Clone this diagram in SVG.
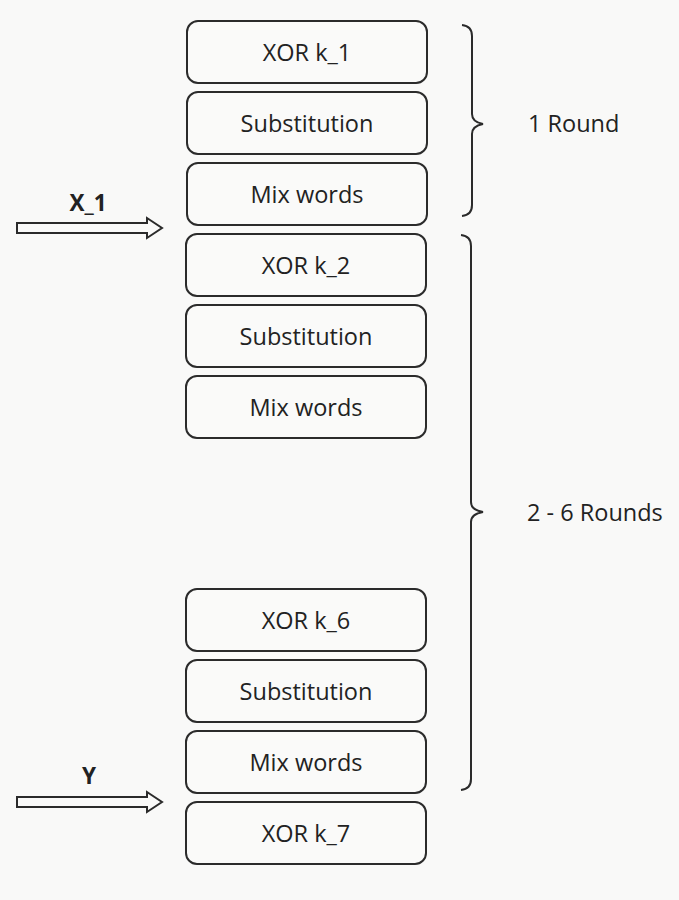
<svg xmlns="http://www.w3.org/2000/svg" width="679" height="900" viewBox="0 0 679 900">
<style>
.box{fill:#fafaf9;stroke:#2b2b2b;stroke-width:2}
.t{font-family:"Open Sans","Noto Sans",sans-serif;font-size:23.5px;fill:#222;text-anchor:middle;dominant-baseline:central}
.lbl{font-family:"Open Sans","Noto Sans",sans-serif;font-size:23.5px;fill:#222}
.in{font-family:"Open Sans","Noto Sans",sans-serif;font-size:22.5px;font-weight:bold;fill:#222;text-anchor:middle}
.br{fill:none;stroke:#2b2b2b;stroke-width:2}
.ar{fill:#fafaf9;stroke:#2b2b2b;stroke-width:2;stroke-linejoin:miter}
</style>
<rect width="679" height="900" fill="#f9f9f8"/>
<g id="n1"><rect class="box" x="187" y="21" width="240" height="62" rx="11"/><text class="t" x="307" y="52">XOR k_1</text></g>
<g id="n2"><rect class="box" x="187" y="92" width="240" height="62" rx="11"/><text class="t" x="307" y="123">Substitution</text></g>
<g id="n3"><rect class="box" x="187" y="163" width="240" height="62" rx="11"/><text class="t" x="307" y="194">Mix words</text></g>
<g id="n4"><rect class="box" x="186" y="234" width="240" height="62" rx="11"/><text class="t" x="306" y="265">XOR k_2</text></g>
<g id="n5"><rect class="box" x="186" y="305" width="240" height="62" rx="11"/><text class="t" x="306" y="336">Substitution</text></g>
<g id="n6"><rect class="box" x="186" y="376" width="240" height="62" rx="11"/><text class="t" x="306" y="407">Mix words</text></g>
<g id="n7"><rect class="box" x="186" y="589" width="240" height="62" rx="11"/><text class="t" x="306" y="620">XOR k_6</text></g>
<g id="n8"><rect class="box" x="186" y="660" width="240" height="62" rx="11"/><text class="t" x="306" y="691">Substitution</text></g>
<g id="n9"><rect class="box" x="186" y="731" width="240" height="62" rx="11"/><text class="t" x="306" y="762">Mix words</text></g>
<g id="n10"><rect class="box" x="186" y="802" width="240" height="62" rx="11"/><text class="t" x="306" y="833">XOR k_7</text></g>
<g id="brace1"><path class="br" d="M462,25 Q472,26 472,36 L472,114 Q472,122 483,124 Q472,126 472,134 L472,205 Q472,215 462,216"/><text class="lbl" x="528" y="132">1 Round</text></g>
<g id="brace2"><path class="br" d="M461,235 Q471,236 471,246 L471,502 Q471,510 483,512 Q471,514 471,522 L471,779 Q471,789 461,790"/><text class="lbl" x="527" y="521">2 - 6 Rounds</text></g>
<g id="connectors">
<g id="x1"><path class="ar" d="M17,223 L147,223 L147,218 L162,228 L147,238 L147,233 L17,233 Z"/><text class="in" x="88" y="211">X_1</text></g>
<g id="y"><path class="ar" d="M17,797 L147,797 L147,792 L162,802 L147,812 L147,807 L17,807 Z"/><text class="in" x="89" y="784">Y</text></g>
</g>
</svg>
